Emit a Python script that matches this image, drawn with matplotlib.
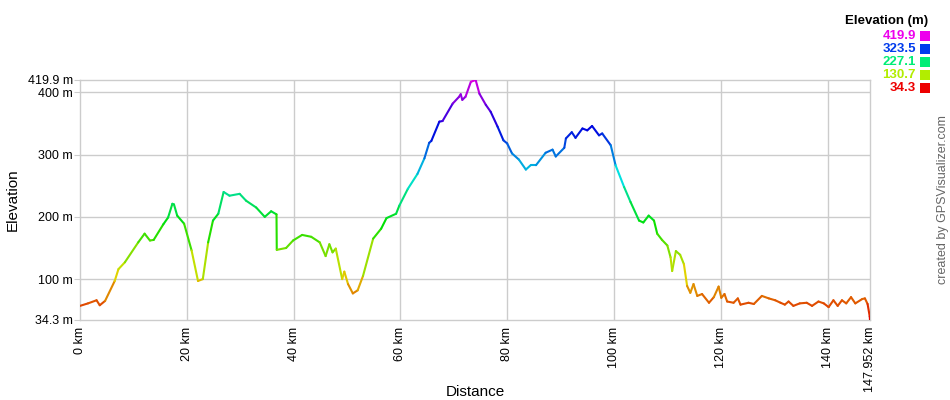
"""
Elevation profile in the GPSVisualizer style, line coloured by height
"""

import matplotlib
matplotlib.use('Agg')
import matplotlib.pyplot as plt
from matplotlib.collections import LineCollection
from matplotlib.colors import hsv_to_rgb
import numpy as np

plt.rcParams['font.family'] = ['Liberation Sans', 'DejaVu Sans']

# Profile (km, m)
dist_km = [0, 1.5, 3.1, 3.7, 4.7, 6.5, 7.2, 8.4, 10.9, 12.1,
           13.1, 13.8, 15.6, 16.5, 17.3, 17.6, 18.2, 19.5, 20.9, 22.1,
           23.0, 24.0, 24.9, 25.9, 26.9, 28.0, 29.9, 31.1, 33.0, 34.6,
           35.8, 36.8, 36.85, 38.6, 39.9, 41.6, 43.3, 44.9, 46.0, 46.7,
           47.3, 47.9, 49.1, 49.5, 50.2, 51.1, 52.0, 53.0, 54.9, 56.4,
           57.4, 59.2, 59.8, 61.4, 63.2, 64.5, 65.4, 65.8, 67.3, 67.9,
           69.8, 71.0, 71.3, 71.6, 72.2, 73.2, 74.1, 74.8, 76.0, 76.9,
           78.2, 79.3, 80.0, 80.9, 82.2, 83.5, 84.4, 85.4, 87.2, 88.5,
           89.1, 90.7, 91.0, 92.1, 92.8, 94.1, 95.0, 95.9, 97.2, 97.8,
           99.4, 100.3, 101.9, 103.1, 104.7, 105.5, 106.5, 107.5, 108.1, 109.0,
           110.0, 110.6, 110.9, 111.6, 112.4, 113.1, 113.7, 114.3, 114.9, 115.6,
           116.5, 117.8, 118.7, 119.6, 120.1, 120.7, 121.2, 122.4, 123.2, 123.7,
           125.2, 126.2, 127.7, 129.0, 130.2, 131.2, 132.0, 132.7, 133.6, 134.8,
           136.1, 137.1, 138.3, 139.3, 140.2, 141.1, 141.9, 142.7, 143.5, 144.4,
           145.2, 146.5, 147.0, 147.5, 147.9, 147.952]
elev_m = [57, 61, 66, 58, 65, 97, 116, 127, 159, 173,
          162, 163, 188, 199, 221, 220, 202, 189, 146, 97,
          100, 159, 194, 205, 240, 234, 237, 226, 215, 200,
          209, 204, 147, 150, 162, 171, 168, 159, 137, 156,
          143, 149, 100, 112, 92, 77, 82, 105, 165, 181,
          198, 205, 218, 245, 269, 294, 319, 322, 353, 354,
          382, 393, 397, 388, 393, 417, 419.9, 398, 380, 369,
          345, 323, 318, 302, 292, 276, 283, 283, 303, 308,
          297, 311, 326, 336, 327, 342, 339, 346, 331, 334,
          315, 283, 248, 224, 194, 191, 202, 194, 173, 163,
          154, 135, 113, 145, 139, 124, 89, 78, 92, 73,
          76, 62, 71, 88, 70, 76, 64, 62, 69, 59,
          62, 60, 73, 69, 66, 62, 59, 64, 57, 61,
          62, 57, 64, 61, 55, 66, 57, 66, 61, 71,
          61, 68, 69, 60, 40, 34.3]

elev_min, elev_max = 34.3, 419.9
total_km = 147.952
x_ticks = [0, 20, 40, 60, 80, 100, 120, 140]
y_ticks = [34.3, 100, 200, 300, 400, 419.9]
legend_vals = [419.9, 323.5, 227.1, 130.7, 34.3]


def elev_color(v, val=0.88):
    # red at the bottom, magenta at the top, hue spread linearly
    frac = (v - elev_min) / (elev_max - elev_min)
    return hsv_to_rgb([frac * 300 / 360, 1.0, val])


fig = plt.figure(figsize=(9.5, 4), dpi=100)
ax = fig.add_axes([80 / 950, 80 / 400, 790 / 950, 240 / 400])

pts = np.column_stack([dist_km, elev_m])
segs = np.stack([pts[:-1], pts[1:]], axis=1)
seg_cols = [elev_color((a + b) / 2) for a, b in zip(elev_m[:-1], elev_m[1:])]
lc = LineCollection(segs, colors=seg_cols, linewidths=1.5, capstyle='round', zorder=3)
ax.add_collection(lc)

ax.set_xlim(0, total_km)
ax.set_ylim(elev_min, elev_max)

grid_col = '#cccccc'
for x in x_ticks[1:]:
    ax.axvline(x, color=grid_col, lw=1, zorder=1)
for y in [100, 200, 300, 400]:
    ax.axhline(y, color=grid_col, lw=1, zorder=1)
for sp in ax.spines.values():
    sp.set_color(grid_col)
    sp.set_linewidth(1)

ax.set_yticks(y_ticks)
ax.set_yticklabels([f'{v:g} m' for v in y_ticks], fontsize=9)
ax.tick_params(axis='y', length=4, color=grid_col, pad=1)

ax.set_xticks(x_ticks + [total_km])
ax.set_xticklabels([f'{v:g} km' for v in x_ticks] + ['147.952 km'],
                   rotation=90, fontsize=9, va='top', ha='center')
ax.tick_params(axis='x', length=0, pad=5)

ax.set_ylabel('Elevation', fontsize=11, labelpad=6)
fig.text(475 / 950, 1 - 392 / 400, 'Distance', ha='center', va='center', fontsize=11)

# legend block, top right
fig.text(928 / 950, 1 - 21 / 400, 'Elevation (m)', ha='right', va='center',
         fontsize=9.5, fontweight='bold')
row_y = [36, 49, 62, 75, 88]
for v, yy in zip(legend_vals, row_y):
    c = elev_color(v, val=0.93)
    fig.text(916 / 950, 1 - yy / 400, f'{v:.1f}', ha='right', va='center',
             fontsize=9.5, fontweight='bold', color=c)
    fig.patches.append(plt.Rectangle((920 / 950, 1 - (yy + 5) / 400), 10 / 950, 10 / 400,
                                     transform=fig.transFigure, facecolor=c,
                                     edgecolor='none', figure=fig))

fig.text(943 / 950, 1 - 200 / 400, 'created by GPSVisualizer.com', rotation=90,
         ha='center', va='center', fontsize=9, color='#666666')

plt.savefig('out.png', dpi=100, facecolor='white')
plt.close()
